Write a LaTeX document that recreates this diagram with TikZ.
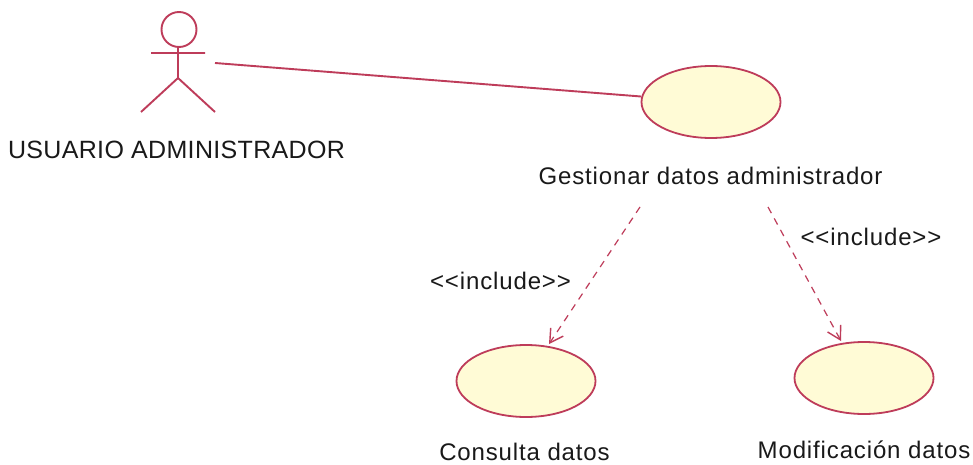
\documentclass[tikz,border=0pt]{standalone}
\usepackage{fontspec}
\setmainfont{Liberation Sans}
\usetikzlibrary{arrows.meta,shapes.geometric}
\definecolor{umlline}{RGB}{190,60,90}
\definecolor{umlfill}{RGB}{255,251,214}
\tikzset{
  usecase/.style={ellipse,draw=umlline,fill=umlfill,line width=1.8pt,minimum width=139pt,minimum height=72pt,inner sep=0pt},
  lbl/.style={inner sep=0pt,text=black!90},
  bodytext/.style={lbl,font=\fontsize{24}{29}\selectfont\addfontfeature{LetterSpace=3.6}},
  assoc/.style={draw=umlline,line width=1.9pt},
  incl/.style={draw=umlline,line width=1.2pt,dash pattern=on 7pt off 6pt,-{Straight Barb[length=13pt,width=15pt,line width=1.4pt]}}
}
\begin{document}
\begin{tikzpicture}[x=1pt,y=-1pt]
\useasboundingbox[fill=white] (0,0) rectangle (973,465);
\node[circle,draw=umlline,line width=1.9pt,minimum size=35pt,inner sep=0pt] (head) at (179,29.5) {};
\coordinate (neck) at (178,47);
\coordinate (hip) at (178,78);
\coordinate (armL) at (151,53);
\coordinate (armR) at (205,53);
\coordinate (legL) at (141,112);
\coordinate (legR) at (215,112);
\coordinate (actorside) at (215,63);
\draw[assoc] (neck) -- (hip) (armL) -- (armR) (legL) -- (hip) -- (legR);
\node[usecase] (gest) at (711,102) {};
\node[usecase] (cons) at (526,381) {};
\node[usecase] (modi) at (864,378) {};
\coordinate (gestL) at (640,207);
\coordinate (gestR) at (768,207);
\coordinate (consT) at (549,344);
\coordinate (modiT) at (841,341);
\draw[assoc] (actorside) -- (gest);
\draw[incl] (gestL) -- (consT);
\draw[incl] (gestR) -- (modiT);
\node[lbl,font=\fontsize{25}{30}\selectfont\addfontfeature{LetterSpace=1.3}] (actorlabel) at (176.5,150) {USUARIO ADMINISTRADOR};
\node[bodytext] (gestlabel) at (710.5,176) {Gestionar datos administrador};
\node[bodytext] (conslabel) at (524.5,452) {Consulta datos};
\node[bodytext] (modilabel) at (864,450) {Modificación datos};
\node[bodytext] (inc1) at (500.5,281) {{<}{<}include{>}{>}};
\node[bodytext] (inc2) at (871,237) {{<}{<}include{>}{>}};
\end{tikzpicture}
\end{document}
